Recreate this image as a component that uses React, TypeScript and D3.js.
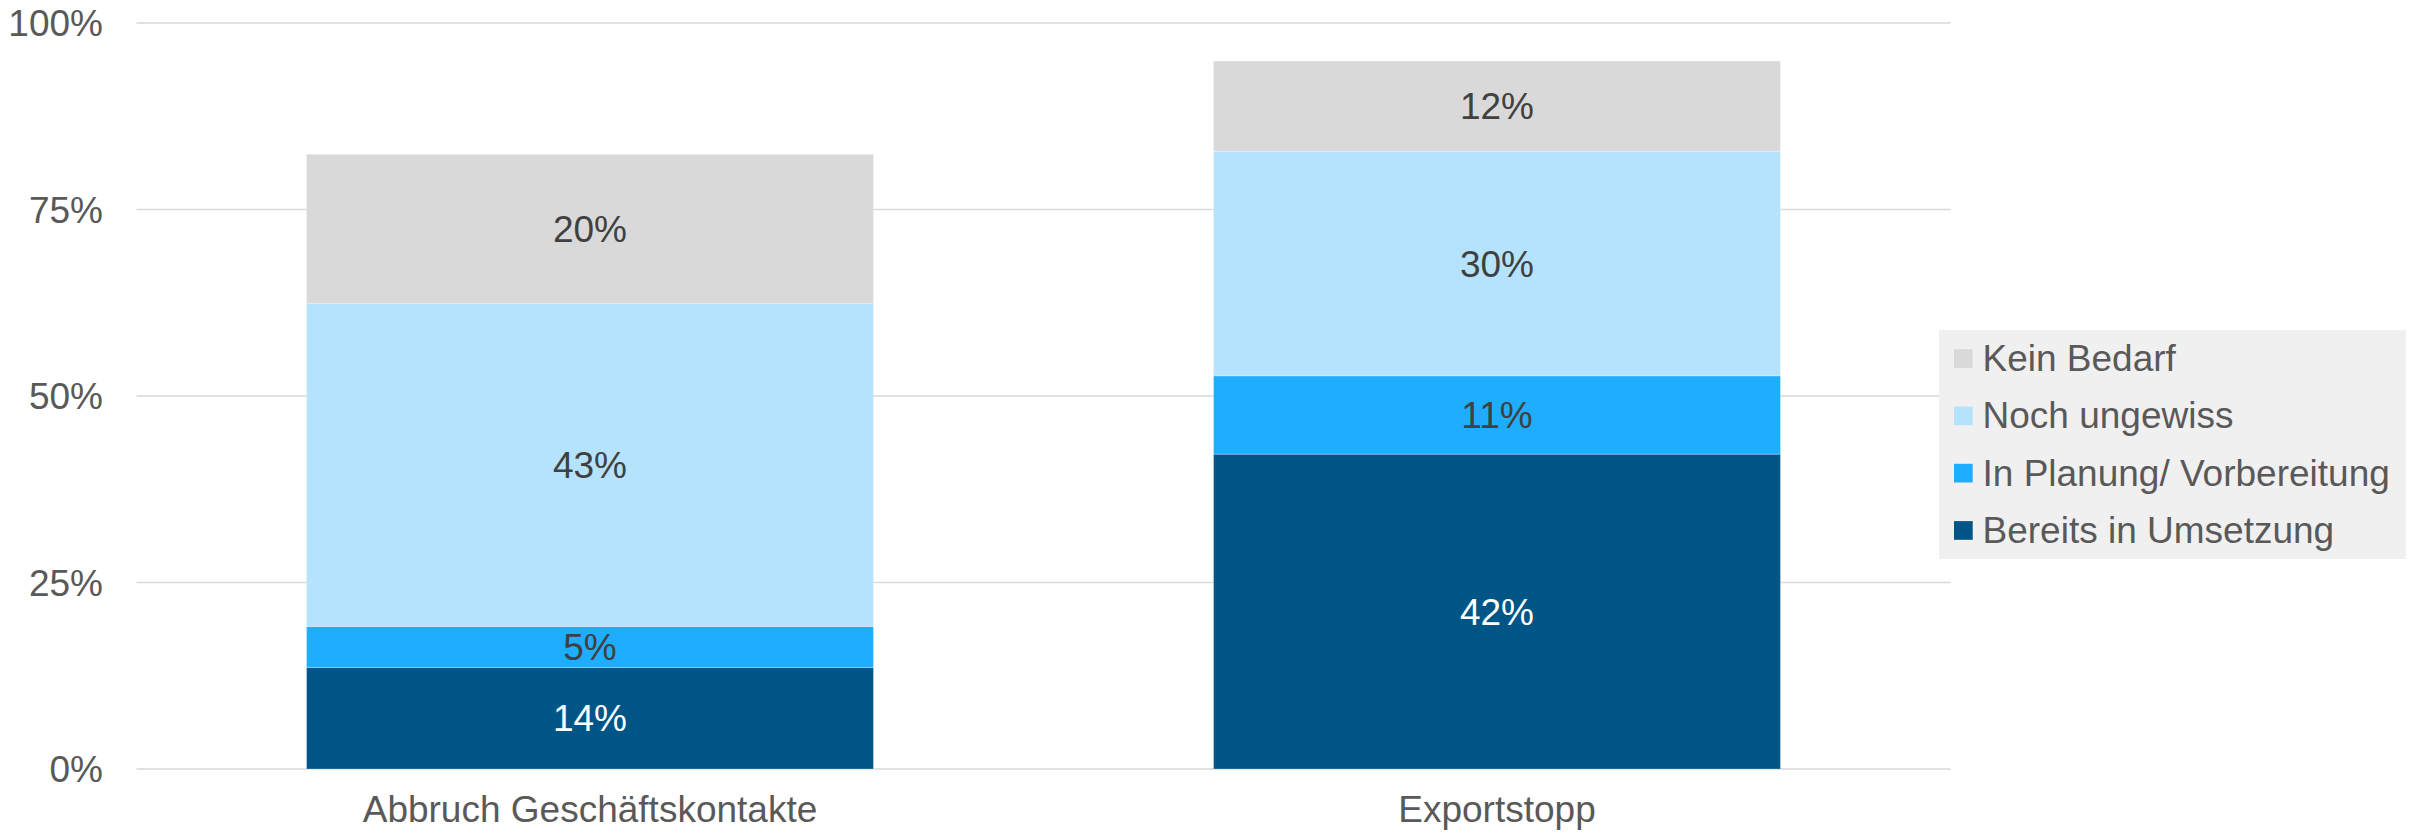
import React from "react";
import * as d3 from "d3";

const categories = ["Abbruch Geschäftskontakte", "Exportstopp"];
const seriesNames = ["Bereits in Umsetzung", "In Planung/ Vorbereitung", "Noch ungewiss", "Kein Bedarf"];
const bereits = [13.6, 42.2];
const planung = [5.5, 10.5];
const ungewiss = [43.3, 30.1];
const keinBedarf = [20.0, 12.1];
const labelsBereits = ["14%", "42%"];
const labelsPlanung = ["5%", "11%"];
const labelsUngewiss = ["43%", "30%"];
const labelsKein = ["20%", "12%"];
const yTicks = [0, 25, 50, 75, 100];
const colors = ["#005587", "#1faeff", "#b5e3fd", "#d9d9d9"];
const labelColors = ["#ffffff", "#404040", "#404040", "#404040"];

const W = 2421;
const H = 833;
const FONT = "'Liberation Sans', Arial, sans-serif";

export default function App() {
  const seriesValues = [bereits, planung, ungewiss, keinBedarf];
  const seriesLabels = [labelsBereits, labelsPlanung, labelsUngewiss, labelsKein];

  const table = categories.map((c, i) => {
    const row: any = { cat: c };
    seriesNames.forEach((s, k) => (row[s] = seriesValues[k][i]));
    return row;
  });
  const stack = d3.stack<any>().keys(seriesNames)(table);

  const x = d3
    .scaleBand<string>()
    .domain(categories)
    .range([136.5, 1950.5])
    .paddingInner(0.375)
    .paddingOuter(0.1875);
  const y = d3.scaleLinear().domain([0, 100]).range([769, 23]);

  const legendOrder = [3, 2, 1, 0];

  return (
    <div style={{ position: "absolute", left: 0, top: 0 }}>
      <svg width={W} height={H} style={{ display: "block", fontFamily: FONT }}>
        <rect x={0} y={0} width={W} height={H} fill="#ffffff" />
        {yTicks.map((t) => (
          <g key={t}>
            <line x1={136.5} x2={1950.5} y1={y(t)} y2={y(t)} stroke="#d9d9d9" strokeWidth={1.5} />
            <text x={103} y={y(t) + 13} textAnchor="end" fontSize={37} fill="#595959">
              {t}%
            </text>
          </g>
        ))}
        {stack.map((layer, k) =>
          layer.map((d, i) => {
            const x0 = x(categories[i])!;
            const y0 = y(d[1]);
            const y1 = y(d[0]);
            return (
              <g key={`${k}-${i}`}>
                <rect
                  x={x0}
                  y={y0}
                  width={x.bandwidth()}
                  height={y1 - y0}
                  fill={colors[k]}
                  stroke="rgba(255,255,255,0.25)"
                  strokeWidth={1}
                />
                <text
                  x={x0 + x.bandwidth() / 2}
                  y={(y0 + y1) / 2 + 13}
                  textAnchor="middle"
                  fontSize={37}
                  fill={labelColors[k]}
                >
                  {seriesLabels[k][i]}
                </text>
              </g>
            );
          })
        )}
        {categories.map((c) => (
          <text
            key={c}
            x={x(c)! + x.bandwidth() / 2}
            y={822}
            textAnchor="middle"
            fontSize={37}
            fill="#595959"
          >
            {c}
          </text>
        ))}
        <g>
          <rect x={1939} y={330} width={467} height={229} fill="#f0f0f0" />
          {legendOrder.map((k, j) => {
            const cy = 358.5 + j * 57.3;
            return (
              <g key={k}>
                <rect x={1954} y={cy - 9.3} width={18.7} height={18.7} fill={colors[k]} />
                <text x={1982.5} y={cy + 12.5} fontSize={37} fill="#595959">
                  {seriesNames[k]}
                </text>
              </g>
            );
          })}
        </g>
      </svg>
    </div>
  );
}
